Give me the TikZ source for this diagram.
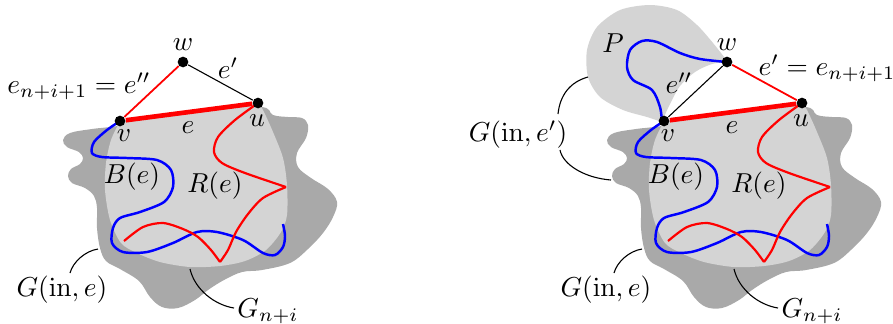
\documentclass[tikz,border=0pt]{standalone}
\definecolor{darkg}{RGB}{169,169,169}
\definecolor{lightg}{RGB}{212,212,212}
\tikzset{
  dot/.style={circle,fill=black,inner sep=0pt,minimum size=3.9pt},
  lbl/.style={inner sep=0pt},
  bluepath/.style={blue,line width=0.9pt},
  redpath/.style={red,line width=0.8pt},
  thinred/.style={red,line width=0.65pt},
  thinblack/.style={black,line width=0.4pt},
  thickred/.style={red,line width=1.7pt},
  callout/.style={black,line width=0.4pt},
}
% #1: name suffix, #2: extra drawing placed under the dots
\newcommand\drawpanel[2]{%
  \fill[darkg] plot[smooth cycle, tension=0.6] coordinates {(118,126) (92,129) (70,133) (63,140) (67,147) (79,152) (83,158) (80,164) (71,169) (68,176) (72,183) (85,188) (94,196) (97,208) (97,228) (100,248) (106,261) (120,269) (139,281) (150,297) (162,307) (178,308) (195,300) (208,290) (224,280) (242,272) (262,270) (290,263) (308,249) (323,233) (333,217) (337,202) (328,189) (311,178) (298,167) (297,153) (306,138) (308,125) (302,118) (288,117) (273,115) (259,107) (190,116)};
  \coordinate (cv#1) at (120,121);
  \coordinate (cu#1) at (258,103);
  \coordinate (cw#1) at (183,62);
  \fill[lightg] (cv#1) -- plot[smooth] coordinates {(258,103) (263,110) (273,132) (283,158) (287,185) (287,215) (281,232) (266,250) (245,261) (220,266) (190,267) (160,262) (137,253) (121,243) (110,220) (105,190) (106,163) (111,140) (120,121)} -- cycle;
  \draw[bluepath] plot[smooth] coordinates {(120,121) (107,130) (94,142) (92,153) (102,157) (127,158) (157,160) (171,170) (173,187) (164,202) (140,212) (120,218) (113,228) (112,243) (123,252) (147,252) (173,243) (197,232) (217,232) (243,240) (263,253) (275,255) (283,247) (285,236) (283,224)};
  \draw[redpath] plot[smooth] coordinates {(258,103) (235,120) (218,137) (214,152) (222,163) (245,173) (286,187)};
  \draw[redpath] plot[smooth] coordinates {(286,187) (263,198) (248,214) (236,232) (228,250) (220,262)};
  \draw[redpath] plot[smooth] coordinates {(220,262) (211,250) (198,237) (183,229) (163,223) (143,227) (124,241)};
  #2
  \node[dot] (v#1) at (cv#1) {};
  \node[dot] (u#1) at (cu#1) {};
  \node[dot] (w#1) at (cw#1) {};
  \draw[thickred] (v#1) -- (u#1);
  \node[lbl] (lw#1) at (183,45) {$w$};
  \node[lbl] (lu#1) at (257,121) {$u$};
  \node[lbl] (lv#1) at (124,136) {$v$};
  \node[lbl] (le#1) at (188,128) {$e$};
  \node[lbl] (lb#1) at (132,177) {$B(e)$};
  \node[lbl] (lr#1) at (215,186) {$R(e)$};
  \node[lbl] (lg#1) at (62,290) {$G(\mathrm{in},e)$};
  \node[lbl] (ln#1) at (268,311) {$G_{n+i}$};
  \coordinate (a#1) at (98,249);
  \coordinate (b#1) at (70,273);
  \draw[callout] (a#1) .. controls (85,251) and (73,262) .. (b#1);
  \coordinate (c#1) at (190,269);
  \coordinate (d#1) at (234,308);
  \draw[callout] (c#1) .. controls (195,290) and (215,305) .. (d#1);
}
\begin{document}
\begin{tikzpicture}[x=0.365pt,y=-0.365pt]
\useasboundingbox (0,0) rectangle (893,323);
% left panel
\drawpanel{L}{}
\draw[thinred] (vL) -- (wL);
\draw[thinblack] (wL) -- (uL);
\node[lbl] (ep) at (228,68) {$e'$};
\node[lbl] (eq) at (79,86) {$e_{n+i+1}=e''$};
% right panel
\begin{scope}[shift={(544,0)}]
\fill[lightg] plot[smooth] coordinates {(118,122) (103,117) (79,110) (56,97) (44,77) (43,50) (53,27) (76,10) (106,5) (133,10) (153,25) (169,43) (184,62)} -- plot[smooth] coordinates {(184,62) (168,64) (151,72) (136,86) (125,106) (118,122)} -- cycle;
\drawpanel{R}{\draw[bluepath] plot[smooth] coordinates {(118,122) (116,107) (108,90) (89,80) (83,67) (86,50) (98,41) (113,42) (136,53) (156,59) (183,62)};}
\draw[thinblack] (vR) -- (wR);
\draw[thinred] (wR) -- (uR);
\node[lbl] (P) at (69,43) {$P$};
\node[lbl] (epp) at (135,83) {$e''$};
\node[lbl] (eq2) at (283,68) {$e'=e_{n+i+1}$};
\node[lbl] (gin) at (-26,135) {$G(\mathrm{in},e')$};
\coordinate (f1) at (44,77);
\coordinate (f2) at (14,114);
\draw[callout] (f1) .. controls (26,82) and (16,95) .. (f2);
\coordinate (f3) at (16,150);
\coordinate (f4) at (67,180);
\draw[callout] (f3) .. controls (19,165) and (41,178) .. (f4);
\end{scope}
\end{tikzpicture}
\end{document}
